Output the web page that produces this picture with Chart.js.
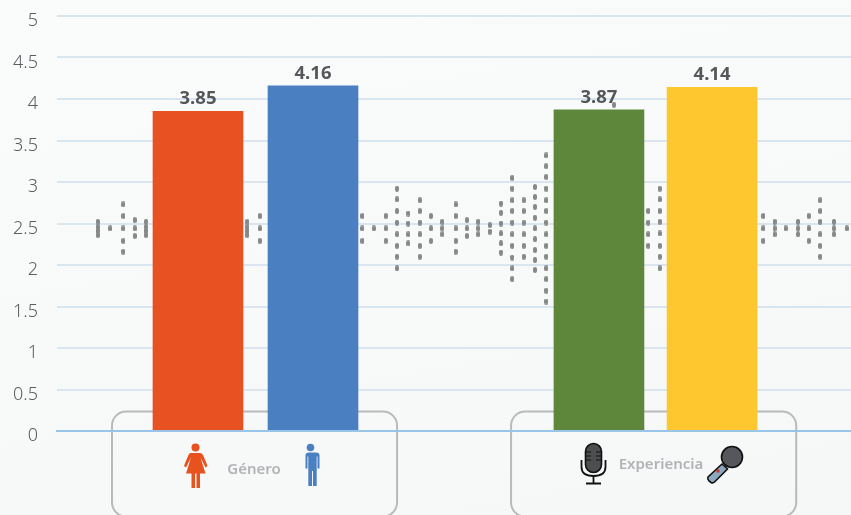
<!DOCTYPE html>
<html lang="es">

<head>
    <meta charset="UTF-8">
    <title>Género y Experiencia</title>
    <script src="https://cdn.jsdelivr.net/npm/chart.js@4/dist/chart.umd.min.js"></script>

    <style>
        html, body {
            margin: 0;
            overflow: hidden;
            background: linear-gradient(170deg, #fafbfb, #f6f7f7);
        }

        #wrap {
            position: relative;
            width: 851px;
            height: 515px;
        }

        #icons {
            position: absolute;
            left: 0;
            top: 0;
            pointer-events: none;
        }
    </style>
</head>

<body>
    <div id="wrap">
        <canvas id="chart" width="851" height="515"></canvas>

        <!-- iconos de cada barra -->
        <svg id="icons" width="851" height="515" viewBox="0 0 851 515">
            <g fill="#e8521f">
                <circle cx="195.5" cy="447.5" r="4" />
                <path d="M191 453 h9 q2 0 3 2 l3 7 1.500 4 -2 1.500 -5 -10 5 16 h-5.500 v14.500 h-3.500 v-14.500 h-1.500 v14.500 h-3.500 v-14.500 h-5.500 l5 -16 -5 10 -2 -1.500 1.500 -4 3 -7 q1 -2 2 -2 z" />
            </g>
            <g fill="#4a7fc1">
                <circle cx="310.500" cy="447.500" r="3.800" />
                <path d="M305 452.500 h11 q3.500 0 3.500 3 v13 h-2 v-12 h-0.800 v29.500 h-3.700 v-15 h-1 v15 h-3.700 v-29.500 h-0.800 v12 h-2 v-13 q0 -3 3.500 -3 z" />
            </g>
            <g stroke="#111" stroke-width="1.600" fill="none">
                <rect x="585.500" y="443.500" width="16" height="29" rx="8" fill="#4d4e50" />
                <path d="M581.500 460 v7 q0 9 12 9 q12 0 12 -9 v-7" stroke-width="1.800" />
                <path d="M593.500 476 v7 M586 483.500 h15" stroke-width="1.800" />
                <path d="M586 452 h5 M586 456 h5 M586 460 h5 M596 452 h5 M596 456 h5 M596 460 h5" stroke-width="1.200" />
            </g>
            <g stroke="#111" stroke-width="1.600">
                <path d="M722 464 l-14 13 q-1 2 1 4 l2 1.500 q2 1 3.500 -0.500 l13 -13 z" fill="#8ca8be" />
                <circle cx="732" cy="457" r="10.500" fill="#56575a" />
                <circle cx="718" cy="471" r="1.700" fill="#d2322d" stroke="none" />
            </g>
        </svg>
    </div>

    <script>
        // Valores de las barras
        const categories = ['Mujer', 'Hombre', 'Sin experiencia', 'Con experiencia'];
        const values = [3.85, 4.16, 3.87, 4.14];
        const barSlots = [12.43, 22.57, 47.78, 57.75];
        const barColors = ['#e85222', '#4a7fc1', '#5e873b', '#ffc72f'];

        const tickLabels = ['0', '0.5', '1', '1.5', '2', '2.5', '3', '3.5', '4', '4.5', '5'];

        // Onda de puntos del fondo: columna y valores de cada punto
        const waveSlots = [
            3.59, 4.70, 5.85, 6.85, 7.85, 16.78, 17.87, 26.93, 27.92, 28.98, 29.97, 30.97,
            31.98, 32.97, 33.97, 35.15, 36.14, 37.14, 38.15, 39.14, 40.14, 41.14, 42.14, 43.14,
            49.10, 52.13, 53.13, 62.27, 63.27, 64.24, 65.33, 66.27, 67.29, 68.50, 69.62
        ];
        const waveDots = [
            [2.52, 2.46, 2.41, 2.36],
            [2.44],
            [2.73, 2.59, 2.44, 2.29, 2.16],
            [2.54, 2.44, 2.35],
            [2.52, 2.46, 2.41, 2.36],
            [2.52, 2.46, 2.41, 2.36],
            [2.59, 2.44, 2.29],
            [2.59, 2.44, 2.29],
            [2.44],
            [2.59, 2.44, 2.29],
            [2.92, 2.79, 2.65, 2.51, 2.37, 2.23, 2.10, 1.96],
            [2.62, 2.50, 2.37, 2.26],
            [2.78, 2.65, 2.51, 2.37, 2.23, 2.10],
            [2.59, 2.44, 2.29],
            [2.52, 2.44, 2.37],
            [2.73, 2.59, 2.44, 2.29, 2.16],
            [2.54, 2.44, 2.35],
            [2.52, 2.44, 2.37],
            [2.48, 2.40],
            [2.74, 2.63, 2.50, 2.38, 2.26, 2.15],
            [3.05, 2.92, 2.78, 2.65, 2.51, 2.37, 2.23, 2.09, 1.96, 1.83],
            [2.78, 2.65, 2.51, 2.37, 2.23, 2.10],
            [2.94, 2.82, 2.70, 2.57, 2.44, 2.31, 2.18, 2.06, 1.94],
            [3.32, 3.19, 3.06, 2.92, 2.78, 2.65, 2.51, 2.37, 2.23, 2.10, 1.96, 1.83, 1.69, 1.56],
            [3.93],
            [2.65, 2.51, 2.37, 2.23],
            [2.92, 2.79, 2.65, 2.52, 2.38, 2.23, 2.10, 1.96],
            [2.59, 2.44, 2.29],
            [2.52, 2.44, 2.37],
            [2.44],
            [2.52, 2.44, 2.37],
            [2.59, 2.44, 2.29],
            [2.78, 2.65, 2.52, 2.37, 2.23, 2.10],
            [2.52, 2.44, 2.37],
            [2.44]
        ];

        // Recuadros de los grupos
        const groups = [
            { label: 'Género', from: 4.85, to: 29.98, textAt: 17.37, textValue: -0.47 },
            { label: 'Experiencia', from: 40.03, to: 65.17, textAt: 53.25, textValue: -0.41 }
        ];

        // Punto redondeado de la onda
        const dot = document.createElement('canvas');
        dot.width = 4;
        dot.height = 6;
        const dotCtx = dot.getContext('2d');
        dotCtx.fillStyle = '#86888a';
        dotCtx.beginPath();
        dotCtx.roundRect(0, 0, 4, 6, 2);
        dotCtx.fill();

        const wavePoints = waveSlots.flatMap((x, i) => waveDots[i].map(y => ({ x, y })));

        // Recuadros detras de las barras y textos
        const groupBoxes = {
            id: 'groupBoxes',
            beforeDatasetsDraw(chart) {
                const { ctx, scales: { x, y } } = chart;
                ctx.save();
                ctx.strokeStyle = '#b8babc';
                ctx.lineWidth = 2;
                groups.forEach(g => {
                    const left = x.getPixelForValue(g.from);
                    const right = x.getPixelForValue(g.to);
                    const top = y.getPixelForValue(0.235);
                    const bottom = y.getPixelForValue(-1.03);
                    ctx.beginPath();
                    ctx.roundRect(left, top, right - left, bottom - top, 14);
                    ctx.stroke();
                });
                ctx.fillStyle = '#b1b3b6';
                ctx.font = '600 15px "Noto Sans"';
                ctx.textAlign = 'center';
                ctx.textBaseline = 'middle';
                groups.forEach(g => {
                    ctx.fillText(g.label, x.getPixelForValue(g.textAt), y.getPixelForValue(g.textValue));
                });
                ctx.restore();
            },
            afterDatasetsDraw(chart) {
                const { ctx } = chart;
                ctx.save();
                ctx.fillStyle = '#55585b';
                ctx.font = 'bold 18.500px "Noto Sans"';
                ctx.textAlign = 'center';
                ctx.textBaseline = 'bottom';
                chart.getDatasetMeta(0).data.forEach((bar, i) => {
                    ctx.fillText(values[i].toFixed(2), bar.x, bar.y - 3);
                });
                ctx.restore();
            }
        };

        const graph = new Chart(document.getElementById('chart'), {
            type: 'bar',
            data: {
                datasets: [{
                        label: 'Puntuación',
                        data: values.map((y, i) => ({ x: barSlots[i], y, name: categories[i] })),
                        backgroundColor: barColors,
                        barThickness: 90,
                        order: 0
                    },
                    {
                        type: 'scatter',
                        label: 'Onda',
                        data: wavePoints,
                        pointStyle: dot,
                        order: 1
                    }
                ]
            },
            plugins: [groupBoxes],
            options: {
                responsive: false,
                animation: false,
                layout: {
                    autoPadding: false,
                    padding: { top: 16, bottom: 84, left: 0, right: 0 }
                },
                plugins: {
                    legend: { display: false },
                    tooltip: { enabled: false }
                },
                scales: {
                    x: {
                        type: 'linear',
                        min: 0,
                        max: 70,
                        offset: false,
                        grid: { display: false, drawTicks: false, offset: false },
                        border: { color: '#99c6e8', width: 2, z: 1 },
                        ticks: { display: false }
                    },
                    y: {
                        min: 0,
                        max: 5,
                        afterFit(scale) { scale.width = 57; scale.paddingTop = 0; },
                        grid: { color: '#dae5ef', lineWidth: 2, drawTicks: false },
                        border: { display: false },
                        ticks: {
                            stepSize: 0.5,
                            padding: 19,
                            labelOffset: 5,
                            color: '#5b5e61',
                            font: { family: '"Noto Sans"', size: 18, weight: '300' },
                            callback: (v, i) => tickLabels[i]
                        }
                    }
                }
            }
        });
    </script>
</body>

</html>
